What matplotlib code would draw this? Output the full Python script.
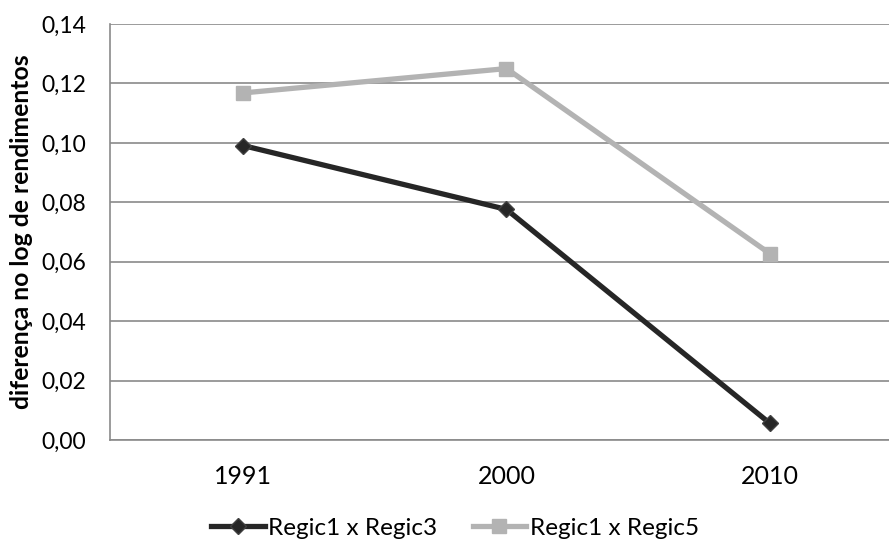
import matplotlib
matplotlib.use("Agg")
import matplotlib.pyplot as plt
from matplotlib.ticker import FuncFormatter, MultipleLocator

plt.rcParams['font.family'] = ['Lato', 'DejaVu Sans']

years = ["1991", "2000", "2010"]
regic3 = [0.0991, 0.0776, 0.0056]
regic5 = [0.1168, 0.1250, 0.0627]
series_names = ["Regic1 x Regic3", "Regic1 x Regic5"]
ylabel = "diferença no log de rendimentos"

W, H = 889, 541
fig = plt.figure(figsize=(W/100, H/100), dpi=100)
ax = fig.add_axes([110/W, (H-440)/H, (889-110)/W, 416/H])

x = list(range(len(years)))
ax.plot(x, regic3, color='#262626', lw=3.8, marker='D', ms=8.5,
        mfc='#262626', mec='#404040', mew=1, label=series_names[0], zorder=4)
ax.plot(x, regic5, color='#b3b3b3', lw=3.8, marker='s', ms=10,
        mfc='#b3b3b3', mec='#b3b3b3', label=series_names[1], zorder=3)

ax.set_xlim(-0.505, 2.452)
ax.set_ylim(0, 0.14)
ax.set_xticks(x)
ax.set_xticklabels(years)
ax.yaxis.set_major_locator(MultipleLocator(0.02))
ax.yaxis.set_major_formatter(FuncFormatter(lambda v, p: f"{v:.2f}".replace('.', ',')))
ax.grid(axis='y', color='#8a8a8a', lw=1.2)
ax.set_axisbelow(True)
for s in ['top', 'right']:
    ax.spines[s].set_visible(False)
for s in ['left', 'bottom']:
    ax.spines[s].set_color('#8a8a8a')
    ax.spines[s].set_linewidth(1.2)
ax.tick_params(axis='both', length=0, colors='black')
ax.tick_params(axis='y', pad=17, labelsize=16.5)
ax.tick_params(axis='x', pad=18, labelsize=18)
ax.set_ylabel(ylabel, fontsize=17.8, fontweight='bold')
ax.yaxis.set_label_coords((33 - 110) / 779, 0.5)

fig.legend(loc='center', bbox_to_anchor=(455/W, 1 - 528/H), ncol=2,
           frameon=False, fontsize=17.5, handlelength=2.2, handletextpad=0.15,
           columnspacing=1.45, borderaxespad=0, borderpad=0)

fig.savefig("out.png", dpi=100)
